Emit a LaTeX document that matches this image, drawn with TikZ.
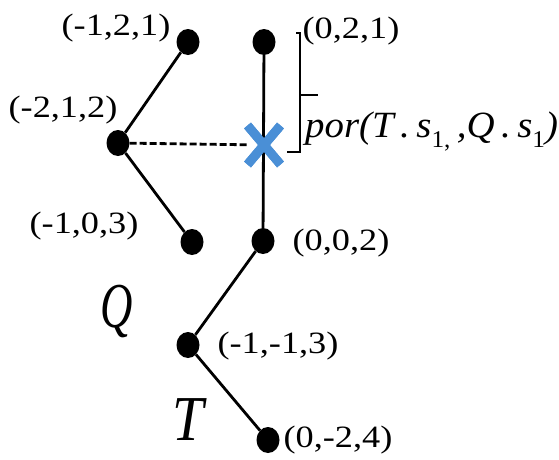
\documentclass[tikz,border=0pt]{standalone}
\usepackage{fontspec}
\setmainfont{Liberation Serif}
\usepackage{tikz}
\usetikzlibrary{shapes.geometric,shapes.misc}
\definecolor{Ink}{HTML}{000000}
\definecolor{HitBlue}{HTML}{4A8FD6}
\newcommand\lowidx[1]{\raisebox{-0.28em}{\fontsize{24}{26}\selectfont\upshape #1}}
\tikzset{
  vertex/.style={ellipse,fill=Ink,inner sep=0pt,minimum width=23pt,minimum height=26pt},
  hit/.style={cross out,draw=HitBlue,line width=9pt,minimum width=24pt,minimum height=30pt,inner sep=0pt},
  edge/.style={draw=Ink,line width=2.8pt},
  link/.style={draw=Ink,line width=2.8pt,dash pattern=on 7pt off 3pt},
  brace/.style={draw=Ink,line width=2.2pt},
  tag/.style={font=\fontsize{31}{33}\selectfont,xscale=1.17,inner sep=0pt},
  treename/.style={font=\fontsize{64}{66}\selectfont\itshape,inner sep=0pt,anchor=base}
}
\begin{document}
\begin{tikzpicture}[x=1pt,y=-1pt]
  \useasboundingbox (0,0) rectangle (559,459);
  % tree Q
  \node[vertex] (q1) at (188,42) {};
  \node[vertex] (q0) at (118,143) {};
  \node[vertex] (q2) at (192,242) {};
  % tree T
  \node[vertex] (t1) at (264,42) {};
  \node[hit] (x) at (264,145) {};
  \node[vertex] (t2) at (263,241) {};
  \node[vertex] (t3) at (188,345) {};
  \node[vertex] (t4) at (268,440) {};
  \draw[edge] (q1)--(q0)--(q2);
  \draw[edge] (t1)--(t2)--(t3)--(t4);
  \draw[link] (q0)--(x);
  \node[hit] at (x) {};
  % coordinates
  \node[tag] (lq1) at (116,28) {(-1,2,1)};
  \node[tag] (lq0) at (63,110) {(-2,1,2)};
  \node[tag] (lq2) at (84,226) {(-1,0,3)};
  \node[tag] (lt1) at (351,31) {(0,2,1)};
  \node[tag] (lt2) at (341,243) {(0,0,2)};
  \node[tag] (lt3) at (278,346) {(-1,-1,3)};
  \node[tag] (lt4) at (338,440) {(0,-2,4)};
  \node[treename,xscale=0.7] (nq) at (117,327) {Q};
  \node[treename,xscale=0.88] (nt) at (188,440) {T};
  % bracket
  \coordinate (btop) at (296,33);
  \coordinate (bbot) at (287,152);
  \coordinate (bmid) at (300,95);
  \draw[brace] (btop)--(300,33)--(300,152)--(bbot);
  \draw[brace] (bmid)--(318,95);
  \node[anchor=base west,inner sep=0pt,xscale=1.05,font=\fontsize{37}{40}\selectfont\itshape] (por) at (305,137)
    {por(T\,.\,s\lowidx{1,}\,,Q\,.\,s\lowidx{1})};
\end{tikzpicture}
\end{document}
